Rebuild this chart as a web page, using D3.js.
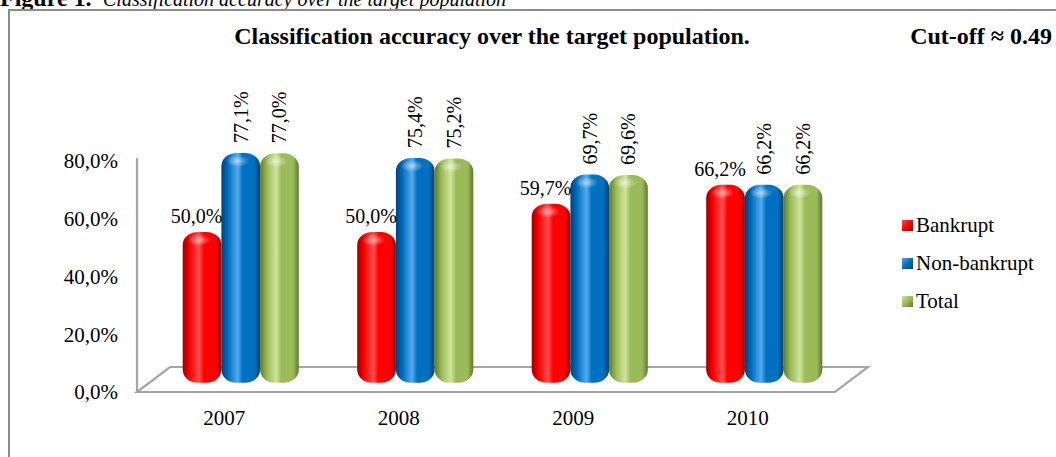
<!DOCTYPE html>
<html>
<head>
<meta charset="utf-8">
<script src="https://cdn.jsdelivr.net/npm/d3@7"></script>
<style>
  html, body { margin: 0; padding: 0; background: #fff; }
  svg { display: block; font-family: "Liberation Serif", "Times New Roman", serif; }
</style>
</head>
<body>
<svg id="chart" width="1056" height="457"></svg>
<script>
// Classification accuracy by year and group
const years = ["2007", "2008", "2009", "2010"];
const bankrupt = [50.0, 50.0, 59.7, 66.2];
const nonBankrupt = [77.1, 75.4, 69.7, 66.2];
const total = [77.0, 75.2, 69.6, 66.2];
const seriesNames = ["Bankrupt", "Non-bankrupt", "Total"];
const yTicks = [0, 20, 40, 60, 80];

const seriesValues = [bankrupt, nonBankrupt, total];

const svg = d3.select("#chart");

// cylinder colours: [dark edge, mid, light highlight]
const palette = {
  "Bankrupt":     ["#9a0000", "#ff0000", "#ff5050"],
  "Non-bankrupt": ["#00407a", "#0070c0", "#55aaf0"],
  "Total":        ["#5f7a2c", "#9bbb59", "#cfe49c"]
};

const defs = svg.append("defs");
seriesNames.forEach((name, i) => {
  const [dk, md, lt] = palette[name];
  const g = defs.append("linearGradient").attr("id", "cyl" + i)
    .attr("x1", 0).attr("x2", 1).attr("y1", 0).attr("y2", 0);
  g.append("stop").attr("offset", "0%").attr("stop-color", dk);
  g.append("stop").attr("offset", "18%").attr("stop-color", md);
  g.append("stop").attr("offset", "42%").attr("stop-color", lt);
  g.append("stop").attr("offset", "55%").attr("stop-color", md);
  g.append("stop").attr("offset", "85%").attr("stop-color", md);
  g.append("stop").attr("offset", "100%").attr("stop-color", dk);

  const r = defs.append("radialGradient").attr("id", "cap" + i)
    .attr("cx", "45%").attr("cy", "50%").attr("r", "50%");
  r.append("stop").attr("offset", "0%").attr("stop-color", "#ffffff").attr("stop-opacity", 0.55);
  r.append("stop").attr("offset", "100%").attr("stop-color", "#ffffff").attr("stop-opacity", 0);

  const lg = defs.append("linearGradient").attr("id", "leg" + i)
    .attr("x1", 0).attr("x2", 1).attr("y1", 0).attr("y2", 1);
  lg.append("stop").attr("offset", "0%").attr("stop-color", lt);
  lg.append("stop").attr("offset", "50%").attr("stop-color", md);
  lg.append("stop").attr("offset", "100%").attr("stop-color", dk);
});

// caption line above the frame (its upper half runs off the page top)
svg.append("text").attr("x", 0).attr("y", 6)
  .style("font-size", "24px").style("font-weight", "bold").text("Figure 1.");
svg.append("text").attr("x", 103).attr("y", 6)
  .style("font-size", "20px").style("font-style", "italic")
  .text("Classification accuracy over the target population");

// outer frame
svg.append("path")
  .attr("d", "M9,458 L9,10 L1057,10")
  .attr("fill", "none").attr("stroke", "#8c8c8c").attr("stroke-width", 2);

// titles
svg.append("text").attr("x", 492).attr("y", 44).attr("text-anchor", "middle")
  .style("font-size", "24px").style("font-weight", "bold")
  .text("Classification accuracy over the target population.");
svg.append("text").attr("x", 1052).attr("y", 44).attr("text-anchor", "end")
  .style("font-size", "24px").style("font-weight", "bold")
  .text("Cut-off \u2248 0.49");

// scales
const x0 = 137, x1 = 835;
const depthX = 33, depthY = -25;
const xScale = d3.scaleBand().domain(years).range([x0, x1]);
const yScale = d3.scaleLinear().domain([0, 80]).range([392, 161]);
// bars stand mid-depth on the floor, so their vertical scale is offset
const barScale = d3.scaleLinear().domain([0, 80]).range([377.8, 144.6]);
const barW = 38.7;
const inner = d3.scaleBand().domain(seriesNames).range([0, barW * 3]);

const fmt = v => d3.format(".1f")(v).replace(".", ",") + "%";

// floor and left wall edge
const y0 = yScale(0);
svg.append("path")
  .attr("d", `M${x0},${y0} L${x1},${y0} L${x1 + depthX},${y0 + depthY} L${x0 + depthX},${y0 + depthY} Z`)
  .attr("fill", "#fff").attr("stroke", "#a6a6a6").attr("stroke-width", 2.2);
svg.append("line")
  .attr("x1", x0).attr("x2", x0).attr("y1", y0).attr("y2", yScale(80) - 3)
  .attr("stroke", "#a6a6a6").attr("stroke-width", 2.2);

// y axis labels
svg.append("g").selectAll("text").data(yTicks).join("text")
  .attr("x", 118).attr("y", d => yScale(d)).attr("dy", "0.35em")
  .attr("text-anchor", "end").style("font-size", "21px")
  .text(d => fmt(d));

// year labels
svg.append("g").selectAll("text").data(years).join("text")
  .attr("x", d => xScale(d) + xScale.bandwidth() / 2)
  .attr("y", 425).attr("text-anchor", "middle").style("font-size", "21px")
  .text(d => d);

// bars
const bars = [];
years.forEach((yr, yi) => {
  const center = xScale(yr) + xScale.bandwidth() / 2 + depthX / 2;
  const left = center - barW * 1.5;
  seriesNames.forEach((name, si) => {
    bars.push({ yr, name, si, value: seriesValues[si][yi], x: left + inner(name) });
  });
});

const barBottom = barScale(0) + 5;
const gBars = svg.append("g");
bars.forEach(b => {
  const top = barScale(b.value);
  const g = gBars.append("g");
  g.append("rect")
    .attr("x", b.x).attr("y", top).attr("width", barW).attr("height", barBottom - top)
    .attr("rx", 15).attr("ry", 13)
    .attr("fill", `url(#cyl${b.si})`);
  g.append("ellipse")
    .attr("cx", b.x + barW * 0.45).attr("cy", top + 8)
    .attr("rx", barW * 0.3).attr("ry", 6)
    .attr("fill", `url(#cap${b.si})`);
});

// value labels
bars.forEach(b => {
  const top = barScale(b.value);
  if (b.si === 0) {
    svg.append("text")
      .attr("x", b.x + barW + 1).attr("y", top - 9)
      .attr("text-anchor", "end").style("font-size", "20px")
      .text(fmt(b.value));
  } else {
    const cx = b.x + barW / 2 + 7;
    const cy = top - 10;
    svg.append("text")
      .attr("transform", `translate(${cx},${cy}) rotate(-90)`)
      .attr("text-anchor", "start").style("font-size", "20px")
      .text(fmt(b.value));
  }
});

// legend
const legend = svg.append("g");
seriesNames.forEach((name, i) => {
  const cy = 225 + i * 38;
  legend.append("rect").attr("x", 902).attr("y", cy - 5).attr("width", 11).attr("height", 11)
    .attr("fill", `url(#leg${i})`);
  legend.append("text").attr("x", 916).attr("y", cy).attr("dy", "0.35em")
    .style("font-size", "21px").text(name);
});
</script>
</body>
</html>
